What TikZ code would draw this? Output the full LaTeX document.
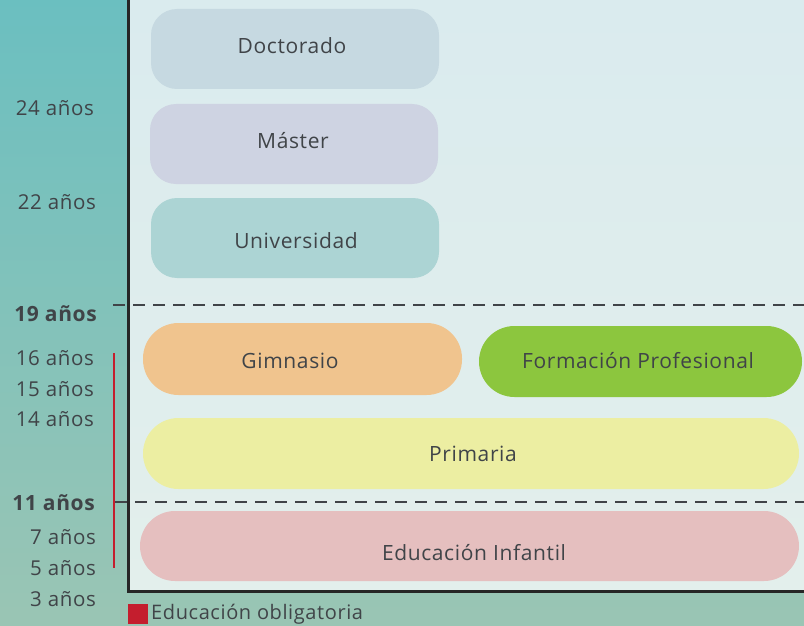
\documentclass[tikz,border=0pt]{standalone}
\usepackage{fontspec}
\setmainfont{Open Sans}
\newfontfamily\spaced[LetterSpace=3]{Open Sans}
\definecolor{bgtop}{HTML}{6BBFC0}
\definecolor{bgbot}{HTML}{9AC5B4}
\definecolor{pantop}{HTML}{DAEBEE}
\definecolor{panbot}{HTML}{E3EFEC}
\definecolor{txt}{HTML}{404448}
\definecolor{cdoc}{HTML}{C6D9E1}
\definecolor{cmas}{HTML}{CED3E2}
\definecolor{cuni}{HTML}{ACD4D4}
\definecolor{cgim}{HTML}{F0C48E}
\definecolor{cfp}{HTML}{8CC63E}
\definecolor{cpri}{HTML}{ECEEA2}
\definecolor{cinf}{HTML}{E5BFBF}
\definecolor{cred}{HTML}{C41E2E}
\begin{document}
\begin{tikzpicture}[x=1pt,y=-1pt,
  box/.style={inner sep=0pt,text=txt,font=\spaced\fontsize{21}{24}\selectfont},
  age/.style={anchor=east,text=txt,inner sep=0pt,font=\spaced\fontsize{20.5}{24}\selectfont},
  bage/.style={age,font=\spaced\fontsize{21}{24}\selectfont\bfseries}]
\useasboundingbox (0,0) rectangle (804,626);
\shade[top color=bgtop,bottom color=bgbot] (0,0) rectangle (804,626);
\shade[top color=pantop,bottom color=panbot] (128,0) rectangle (804,591);
\draw[line width=3pt,black!85] (128,0) -- (128,591) -- (804,591);
% boxes
\fill[cdoc,rounded corners=26pt] (151,9) rectangle (439,89);
\node[box] (doc) at (292,46) {Doctorado};
\fill[cmas,rounded corners=26pt] (150,104) rectangle (438,184);
\node[box] (mas) at (293,141) {Máster};
\fill[cuni,rounded corners=26pt] (151,198) rectangle (439,278);
\node[box] (uni) at (296,241) {Universidad};
\fill[cgim,rounded corners=35.5pt] (143,323) rectangle (462,395);
\node[box] (gim) at (290,361) {Gimnasio};
\fill[cfp,rounded corners=35.5pt] (479,326) rectangle (802,397);
\node[box] (fp) at (638,361) {Formación Profesional};
\fill[cpri,rounded corners=35.5pt] (143,418) rectangle (799,489);
\node[box] (pri) at (473,454) {Primaria};
\fill[cinf,rounded corners=35pt] (140,511) rectangle (799,581);
\node[box] (inf) at (474,553) {Educación Infantil};
% dashed lines
\draw[line width=2pt,txt,dash pattern=on 12pt off 8pt] (113,305) -- (804,305);
\draw[line width=2pt,txt,dash pattern=on 12pt off 8pt] (115,502) -- (804,502);
% red line
\draw[line width=2pt,cred] (114,353) -- (114,568);
% ages
\node[age] (a24) at (94,108) {24 años};
\node[age] (a22) at (96,202) {22 años};
\node[bage] (a19) at (97,314) {19 años};
\node[age] (a16) at (94,358) {16 años};
\node[age] (a15) at (94,389) {15 años};
\node[age] (a14) at (94,419) {14 años};
\node[bage] (a11) at (95,503) {11 años};
\node[age] (a7) at (96,537) {7 años};
\node[age] (a5) at (96,568) {5 años};
\node[age] (a3) at (96,599) {3 años};
% legend
\fill[cred] (128,604) rectangle (148,624);
\node[anchor=west,inner sep=0pt,text=txt,font=\spaced\fontsize{20}{24}\selectfont] (leg) at (151,614) {Educación obligatoria};
\end{tikzpicture}
\end{document}
